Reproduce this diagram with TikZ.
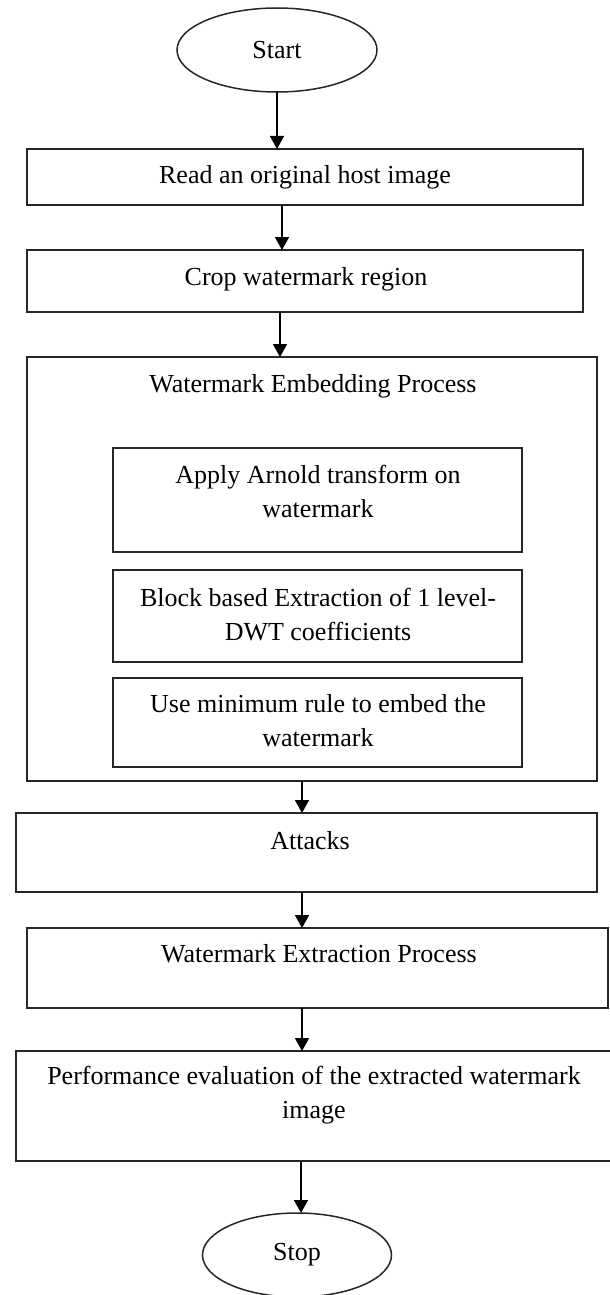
\documentclass[tikz,border=0pt]{standalone}
\usepackage{fontspec}
\setmainfont{Liberation Serif}
\usetikzlibrary{shapes.geometric,arrows.meta}
\tikzset{
  boxnode/.style={draw=black!85, line width=1.8pt, rectangle, inner sep=0pt, outer sep=0pt},
  ovalnode/.style={draw=black!85, line width=1.5pt, ellipse, inner sep=0pt, outer sep=0pt, font=\fontsize{26}{34}\selectfont},
  txt/.style={inner sep=0pt, align=center, font=\fontsize{26}{34}\selectfont},
  arr/.style={line width=1.6pt, -{Triangle[length=13pt,width=14pt]}}
}
\begin{document}
\begin{tikzpicture}[x=1pt,y=-1pt]
\useasboundingbox (0,0) rectangle (610,1295);
% start
\node[ovalnode, minimum width=200pt, minimum height=84pt] (start) at (277,50) {Start};
% box 1
\node[boxnode, minimum width=556pt, minimum height=56pt] (b1) at (305,177) {};
\node[txt] (b1t) at (305,177) {Read an original host image};
% box 2
\node[boxnode, minimum width=556pt, minimum height=62pt] (b2) at (305,281) {};
\node[txt] (b2t) at (306,279) {Crop watermark region};
% big embedding box
\node[boxnode, minimum width=570pt, minimum height=424pt] (emb) at (312,569) {};
\node[txt] (embt) at (313,386) {Watermark Embedding Process};
% inner boxes
\node[boxnode, minimum width=409pt, minimum height=104pt] (in1) at (317.5,500) {};
\node[txt] (in1t) at (318,491) {Apply Arnold transform on\\watermark};
\node[boxnode, minimum width=409pt, minimum height=92pt] (in2) at (317.5,616) {};
\node[txt] (in2t) at (318,615) {Block based Extraction of 1 level-\\DWT coefficients};
\node[boxnode, minimum width=409pt, minimum height=89pt] (in3) at (317.5,722.5) {};
\node[txt] (in3t) at (318,721) {Use minimum rule to embed the\\watermark};
% attacks
\node[boxnode, minimum width=581pt, minimum height=79pt] (att) at (306.5,852.5) {};
\node[txt] (attt) at (310,841) {Attacks};
% extraction
\node[boxnode, minimum width=581pt, minimum height=80pt] (ext) at (317.5,968) {};
\node[txt] (extt) at (319,954) {Watermark Extraction Process};
% performance
\node[boxnode, minimum width=595pt, minimum height=110pt] (perf) at (313.5,1106) {};
\node[txt] (perft) at (314,1095) {Performance evaluation of the extracted watermark\\image};
% stop
\node[ovalnode, minimum width=189pt, minimum height=84pt] (stop) at (297,1255) {Stop};
% connectors
\draw[arr] (start.south) -- (start.south |- b1.north);
\draw[arr] ([xshift=-23pt]b1.south) -- ([xshift=-23pt]b1.south |- b2.north);
\draw[arr] ([xshift=-25pt]b2.south) -- ([xshift=-25pt]b2.south |- emb.north);
\draw[arr] ([xshift=-10pt]emb.south) -- ([xshift=-10pt]emb.south |- att.north);
\draw[arr] ([xshift=-4.5pt]att.south) -- ([xshift=-4.5pt]att.south |- ext.north);
\draw[arr] ([xshift=-15.5pt]ext.south) -- ([xshift=-15.5pt]ext.south |- perf.north);
\draw[arr] ([xshift=-12.5pt]perf.south) -- ([xshift=-12.5pt]perf.south |- stop.north);
\end{tikzpicture}
\end{document}
